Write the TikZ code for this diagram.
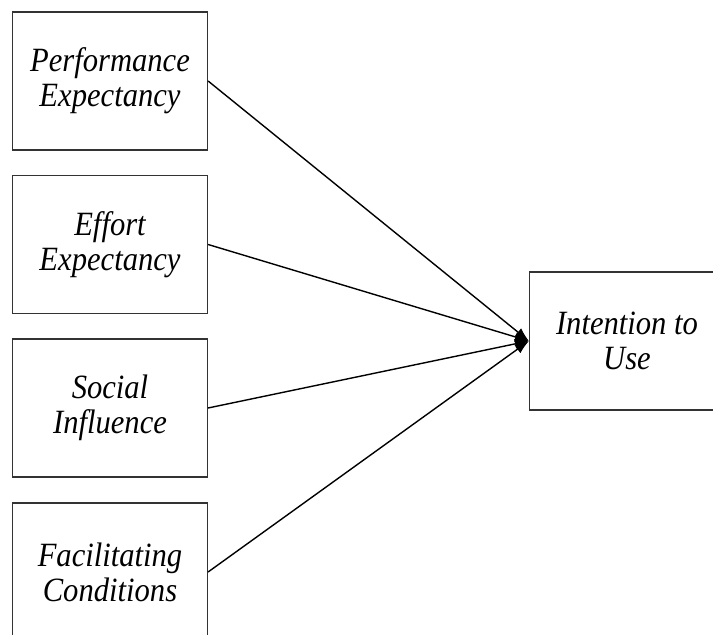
\documentclass[tikz,border=0pt]{standalone}
\usepackage{fontspec}
\setmainfont{Liberation Serif}
\newfontfamily\boxfont{Liberation Serif}[FakeStretch=0.9]
\usepackage{tikz}
\usetikzlibrary{arrows.meta}

\tikzset{
    construct/.style={draw=black!80, line width=0.6pt, minimum width=97.5pt, minimum height=69pt,
        align=center, inner sep=0pt, font=\boxfont\itshape\fontsize{17pt}{17.5pt}\selectfont},
    path/.style={line width=0.7pt, -{Latex[length=7pt,width=5pt]}}
}

\begin{document}
\begin{tikzpicture}[x=0.5pt, y=-0.5pt]
    \useasboundingbox (0,0) rectangle (713,635);

    % Predictors on the left
    \node[construct] (pe) at (110,81) {Performance\\Expectancy};
    \node[construct] (ee) at (110,244.5) {Effort\\Expectancy};
    \node[construct] (si) at (110,408) {Social\\Influence};
    \node[construct] (fc) at (110,572) {Facilitating\\Conditions};

    % Outcome on the right
    \node[construct] (iu) at (627,341) {Intention to\\Use};

    % Paths into the outcome
    \draw[path] (pe.east) -- (iu.west);
    \draw[path] (ee.east) -- (iu.west);
    \draw[path] (si.east) -- (iu.west);
    \draw[path] (fc.east) -- (iu.west);

\end{tikzpicture}
\end{document}
